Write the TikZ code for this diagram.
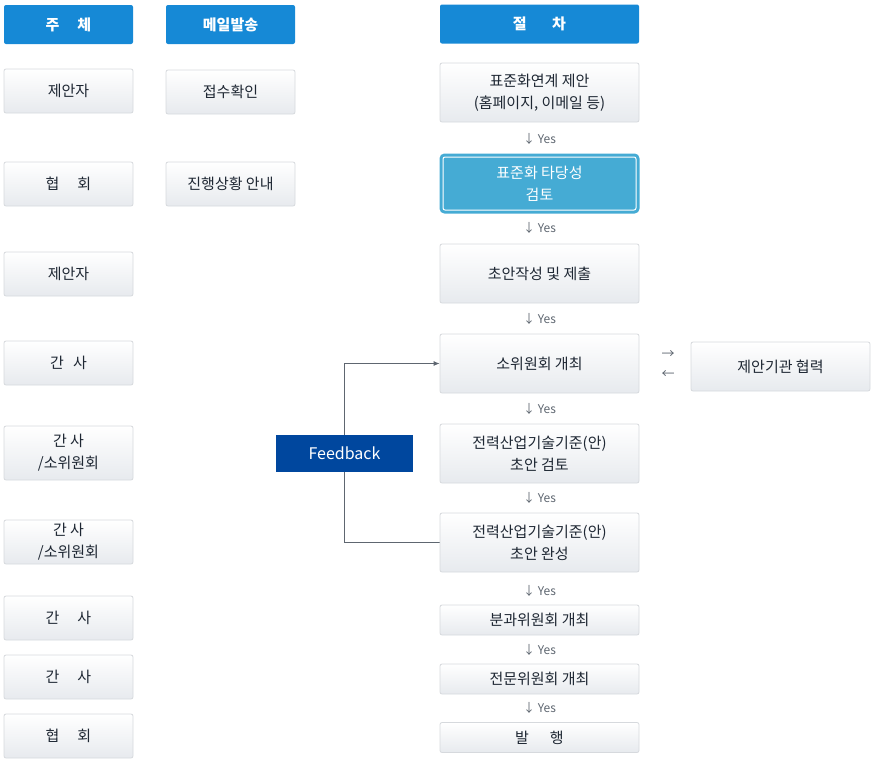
\documentclass[tikz,border=0pt]{standalone}
\usepackage{fontspec}
\setmainfont{Noto Sans CJK KR}
\usetikzlibrary{backgrounds,arrows.meta}

\definecolor{headblue}{HTML}{1689D6}
\definecolor{fbblue}{HTML}{00479E}
\definecolor{hlblue}{HTML}{45ABD4}
\definecolor{boxline}{HTML}{D6D9DD}
\definecolor{boxbot}{HTML}{E7EAEE}
\definecolor{textdark}{HTML}{1E2733}
\definecolor{linegray}{HTML}{5E6670}

\begin{document}
\begin{tikzpicture}[x=1pt, y=-1pt,
    plain/.style={rounded corners=2pt, align=center, inner sep=0pt, font=\fontsize{15}{22}\selectfont},
    box/.style={plain, draw=boxline, line width=0.8pt, top color=white, bottom color=boxbot, text=textdark},
    who/.style={box, minimum width=129pt, minimum height=44pt},
    stage/.style={box, minimum width=199pt, minimum height=59pt},
    thin stage/.style={box, minimum width=199pt, minimum height=30pt},
    current/.style={plain, fill=hlblue, draw=white, line width=1pt, preaction={draw=hlblue, line width=7pt},
        minimum width=193pt, minimum height=53pt, text=white},
    head/.style={fill=headblue, rounded corners=2pt, text=white, inner sep=0pt, minimum height=39pt,
        font=\fontsize{15}{18}\selectfont\bfseries},
    yes/.style={text=linegray, inner sep=0pt, font=\fontsize{12}{13}\selectfont}]

    \useasboundingbox (0,0) rectangle (874,769);

    \node[head, minimum width=129pt] (hwho) at (68.5,24.5) {주\hspace{1.2em}체};
    \node[head, minimum width=129pt] (hmail) at (230.5,24.5) {메일발송};
    \node[head, minimum width=199pt] (hstep) at (539.5,24) {절\hspace{1.7em}차};

    \node[who] (w1) at (68.5,91) {제안자};
    \node[who] (w2) at (68.5,184) {협\hspace{1.2em}회};
    \node[who] (w3) at (68.5,274) {제안자};
    \node[who] (w4) at (68.5,363) {간\hspace{0.6em}사};
    \node[who, minimum height=54pt] (w5) at (68.5,453) {간 사\\/소위원회};
    \node[who] (w6) at (68.5,542) {간 사\\/소위원회};
    \node[who] (w7) at (68.5,618) {간\hspace{1.2em}사};
    \node[who] (w8) at (68.5,677) {간\hspace{1.2em}사};
    \node[who] (w9) at (68.5,736) {협\hspace{1.2em}회};

    \node[who] (m1) at (230.5,92) {접수확인};
    \node[who] (m2) at (230.5,184) {진행상황 안내};

    \node[stage] (propose) at (539.5,92.5) {표준화연계 제안\\(홈페이지, 이메일 등)};
    \node[current] (check) at (539.5,183.5) {표준화 타당성\\검토};
    \node[stage] (draft) at (539.5,273.5) {초안작성 및 제출};
    \node[stage] (meet) at (539.5,363.5) {소위원회 개최};
    \node[stage] (review) at (539.5,453.5) {전력산업기술기준(안)\\초안 검토};
    \node[stage] (done) at (539.5,542.5) {전력산업기술기준(안)\\초안 완성};
    \node[thin stage] (sub) at (539.5,620) {분과위원회 개최};
    \node[thin stage] (expert) at (539.5,679) {전문위원회 개최};
    \node[thin stage] (issue) at (539.5,737.5) {발\hspace{1.4em}행};

    \node[box, minimum width=179pt, minimum height=49pt] (coop) at (780.5,366.5) {제안기관 협력};
    \node[yes, font=\fontsize{13}{13}\selectfont] (tocoop) at (668,355) {→};
    \node[yes, font=\fontsize{13}{13}\selectfont] (fromcoop) at (668,375) {←};

    \node[fill=fbblue, text=white, minimum width=137pt, minimum height=37pt, inner sep=0pt,
        font=\fontsize{16}{18}\selectfont] (fb) at (344.5,453.5) {Feedback};

    \path (propose) -- node[yes] {↓ Yes} (check);
    \path (check) -- node[yes, yshift=-1pt] {↓ Yes} (draft);
    \path (draft) -- node[yes] {↓ Yes} (meet);
    \path (meet) -- node[yes] {↓ Yes} (review);
    \path (review) -- node[yes] {↓ Yes} (done);
    \path (done) -- node[yes, yshift=-2pt] {↓ Yes} (sub);
    \path (sub) -- node[yes] {↓ Yes} (expert);
    \path (expert) -- node[yes] {↓ Yes} (issue);

    \begin{scope}[on background layer]
        \draw[linegray, line width=0.8pt, -{Latex[length=6pt,width=5pt]}] (done.west) -| (fb.center) |- (meet.west);
    \end{scope}
\end{tikzpicture}
\end{document}
